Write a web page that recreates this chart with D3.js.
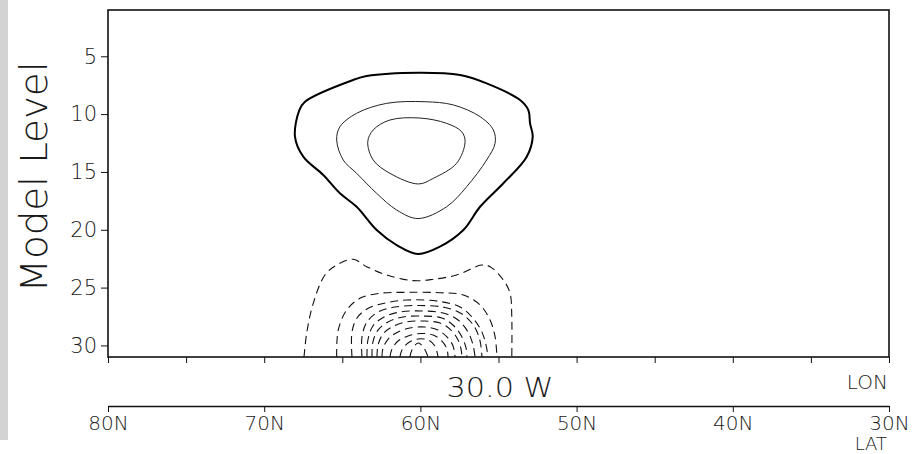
<html>
<script src="https://d3js.org/d3.v7.min.js"></script>
<style>
body {margin:0; background:white;}
text {font-family: "DejaVu Sans", sans-serif; font-weight: 200; fill: #1a1a1a;}
.tick line, .domain {stroke: #111;}
</style>
<body>
<svg width=920 height=454></svg>
<script>
var levelTicks = [5, 10, 15, 20, 25, 30]
var latTicks = [80, 70, 60, 50, 40, 30]
var lonTicks = [80, 75, 70, 65, 60, 55, 50, 45, 40, 35, 30]

// solid (positive) contours, [lat, level], closed loops
var pos1 = [[60.13,6.42],[63.44,6.71],[64.31,7.05],[67.39,8.93],[67.75,9.65],[68.03,11.95],[67.50,13.68],[66.22,15.26],[65.15,16.85],[64.08,18.01],[62.80,20.02],[61.52,21.32],[60.15,22.09],[58.75,21.46],[57.25,20.02],[56.18,18.01],[54.69,15.98],[53.19,13.68],[52.81,11.95],[52.98,10.80],[53.09,9.65],[53.62,8.78],[55.76,7.34],[57.46,6.62]]
var pos2 = [[59.71,8.93],[62.16,9.07],[64.08,9.93],[65.15,11.09],[65.36,12.24],[64.94,13.97],[64.08,15.12],[62.80,16.85],[61.52,18.29],[60.15,19.03],[58.32,18.01],[57.04,16.28],[55.76,13.97],[55.22,12.52],[55.33,11.37],[56.18,10.22],[57.89,9.21]]
var pos3 = [[60.03,10.34],[61.95,10.51],[63.02,11.37],[63.37,12.39],[63.02,13.97],[61.95,15.12],[60.13,16.04],[59.17,15.55],[57.68,14.25],[57.14,12.39],[57.36,11.52],[58.32,10.80]]

// dashed (negative) contours, open at the bottom
var neg1 = [[67.45,31.0],[67.28,28.95],[66.86,26.36],[66.11,23.91],[65.36,23.05],[64.30,22.55],[63.44,23.19],[62.16,23.91],[60.45,24.40],[59.17,24.28],[57.68,23.91],[56.08,23.05],[55.54,23.19],[54.69,24.34],[54.26,25.49],[54.15,27.51],[54.15,31.0]]
var neg2 = [[65.36,31.0],[65.26,28.67],[64.72,26.94],[63.87,25.93],[62.59,25.49],[60.88,25.41],[58.75,25.44],[57.25,25.64],[56.18,26.50],[55.54,27.80],[55.22,29.24],[55.10,31.0]]
var neg3 = [[64.38,31.0],[64.38,28.84],[64.06,27.63],[63.42,26.85],[62.39,26.37],[60.86,26.07],[58.75,26.20],[57.46,26.68],[56.70,27.54],[56.12,28.67],[55.81,29.88],[55.67,31.0]]
var neg4 = [[63.74,31.0],[63.74,29.27],[63.42,27.97],[62.71,27.11],[61.63,26.68],[60.03,26.55],[58.43,26.72],[57.34,27.28],[56.57,28.32],[56.18,29.62],[56.06,31.0]]
var neg5 = [[63.42,31.0],[63.36,29.53],[63.04,28.32],[62.33,27.54],[61.31,27.11],[59.90,27.02],[58.55,27.20],[57.59,27.80],[56.95,28.84],[56.63,29.96],[56.50,31.0]]
var neg6 = [[63.10,31.0],[63.04,29.70],[62.71,28.67],[62.07,27.97],[61.11,27.54],[59.83,27.46],[58.62,27.63],[57.85,28.32],[57.34,29.27],[57.08,30.22],[57.02,31.0]]
var neg7 = [[62.78,31.0],[62.71,29.96],[62.39,29.01],[61.82,28.41],[60.92,27.97],[59.77,27.89],[58.75,28.06],[58.04,28.67],[57.59,29.53],[57.40,30.31],[57.34,31.0]]
var neg8 = [[62.46,31.0],[62.39,30.22],[62.01,29.36],[61.43,28.84],[60.67,28.49],[59.71,28.41],[58.87,28.67],[58.30,29.27],[57.91,30.05],[57.78,31.0]]
var neg9 = [[61.95,31.0],[61.82,30.31],[61.43,29.62],[60.79,29.18],[59.96,28.97],[59.19,29.10],[58.62,29.62],[58.30,30.31],[58.23,31.0]]
var neg10 = [[61.31,31.0],[61.18,30.39],[60.79,29.79],[60.15,29.44],[59.51,29.53],[59.07,30.05],[58.87,31.0]]
var neg11 = [[60.67,31.0],[60.54,30.39],[60.15,29.79],[59.77,30.22],[59.51,31.0]]

var svg = d3.select("svg")
var x = d3.scaleLinear().domain([80, 30]).range([108, 889])
var y = d3.scaleLinear().domain([1, 31]).range([10, 357])

// grey strip on the left
svg.append("rect").attr("x", 0).attr("y", 0).attr("width", 8).attr("height", 440).attr("fill", "#d3d3d3")

svg.append("clipPath").attr("id", "plot").append("rect")
  .attr("x", 108).attr("y", 10).attr("width", 781).attr("height", 347)

var g = svg.append("g").attr("clip-path", "url(#plot)")
var loopLine = d3.line().x(d => x(d[0])).y(d => y(d[1])).curve(d3.curveCatmullRomClosed)
var arcLine = d3.line().x(d => x(d[0])).y(d => y(d[1])).curve(d3.curveCatmullRom)

g.append("path").attr("d", loopLine(pos1)).attr("fill", "none").attr("stroke", "#000").attr("stroke-width", 2)
;[pos2, pos3].forEach(function(c) {
  g.append("path").attr("d", loopLine(c)).attr("fill", "none").attr("stroke", "#222").attr("stroke-width", 1)
})
;[neg1, neg2, neg3, neg4, neg5, neg6, neg7, neg8, neg9, neg10, neg11].forEach(function(c) {
  g.append("path").attr("d", arcLine(c)).attr("fill", "none").attr("stroke", "#111")
    .attr("stroke-width", 1.1).attr("stroke-dasharray", "8,5")
})

// frame
svg.append("rect").attr("x", 108).attr("y", 10).attr("width", 781).attr("height", 347)
  .attr("fill", "none").attr("stroke", "#111").attr("stroke-width", 1.6)

// level axis
var ya = svg.append("g").attr("transform", "translate(108,0)")
  .call(d3.axisLeft(y).tickValues(levelTicks).tickSize(7).tickPadding(4))
ya.select(".domain").remove()
ya.selectAll("text").style("font-size", "21px").attr("fill", "#1a1a1a")

// lon ticks along the bottom of the frame
var xa = svg.append("g").attr("transform", "translate(0,357)")
  .call(d3.axisBottom(x).tickValues(lonTicks).tickSize(6).tickFormat(""))
xa.select(".domain").remove()

// lat axis
var la = svg.append("g").attr("transform", "translate(0,406)")
  .call(d3.axisBottom(x).tickValues(latTicks).tickSize(6).tickSizeOuter(0).tickPadding(4).tickFormat(d => d + "N"))
la.select(".domain").attr("stroke-width", 1.5)
la.selectAll("text").style("font-size", "20px").attr("fill", "#1a1a1a")

svg.append("text").attr("x", 500).attr("y", 397).attr("text-anchor", "middle")
  .attr("textLength", 107).attr("lengthAdjust", "spacingAndGlyphs")
  .style("font-size", "27px").text("30.0 W")
svg.append("text").attr("x", 888).attr("y", 389).attr("text-anchor", "end")
  .style("font-size", "20px").text("LON")
svg.append("text").attr("x", 887).attr("y", 450).attr("text-anchor", "end")
  .style("font-size", "18px").text("LAT")
svg.append("text").attr("transform", "translate(47,177) rotate(-90)").attr("text-anchor", "middle")
  .attr("textLength", 231).attr("lengthAdjust", "spacingAndGlyphs")
  .style("font-size", "37px").text("Model Level")
</script>
</body>
</html>
